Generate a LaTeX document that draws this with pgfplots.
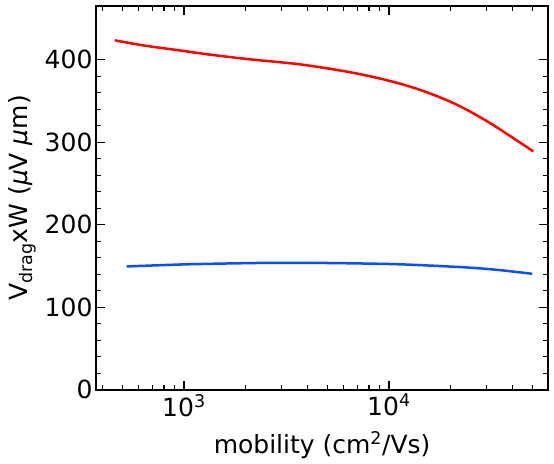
\documentclass[border=0pt]{standalone}
\usepackage{fontspec}
\setmainfont{DejaVu Sans}
\usepackage{pgfplots}
\pgfplotsset{compat=1.18}
\definecolor{cred}{RGB}{255,0,0}
\definecolor{cblue}{RGB}{10,80,255}
\begin{document}
\fontsize{25bp}{30bp}\selectfont
\begin{tikzpicture}
\begin{axis}[
  scale only axis, width=452bp, height=384bp,
  xmode=log, xmin=373, xmax=59700, ymin=0, ymax=465,
  xtick={1000,10000}, xticklabels={10\textsuperscript{3},10\textsuperscript{4}},
  minor xtick={400,500,600,700,800,900,2000,3000,4000,5000,6000,7000,8000,9000,20000,30000,40000,50000},
  ytick={0,100,200,300,400}, minor y tick num=4,
  tick align=inside, tick pos=both,
  major tick length=9bp, minor tick length=5bp,
  every tick/.style={black, line width=1.2bp},
  axis line style={line width=2.5bp},
  /pgf/number format/assume math mode=true,
  tick label style={font=\fontsize{25bp}{30bp}\selectfont},
  yticklabel style={inner sep=3.5bp},
  xticklabel style={inner sep=4bp},
  label style={font=\fontsize{25bp}{30bp}\selectfont},
  xlabel={mobility (cm\textsuperscript{2}/Vs)},
  ylabel={V\textsubscript{drag}xW ({\itshape μ}V {\itshape μ}m)},
  xlabel style={inner sep=0pt, yshift=-11bp},
  ylabel style={yshift=-3bp},
]
\coordinate (ne) at (rel axis cs:1,1);
\coordinate (sw) at (rel axis cs:0,0);
\addplot[cred, line width=2.5bp, smooth] coordinates {
(460,423.4) (632,417.3) (921,411.7) (1339,406.1) (2098,400.4) (3680,394.3)
(6460,384.8) (10110,374.2) (14700,362.1) (21400,345.5) (31100,323.3) (50600,288.9)};
\addplot[cblue, line width=2.5bp, smooth] coordinates {
(525,149.5) (1000,152) (2000,153.5) (3000,154) (5000,153.7) (10000,152.5)
(15500,150.7) (25000,148) (35000,145) (50000,140.6)};
\end{axis}
\path (ne) ++(6bp,6bp);
\path (sw) ++(0,-74bp);
\end{tikzpicture}
\end{document}
